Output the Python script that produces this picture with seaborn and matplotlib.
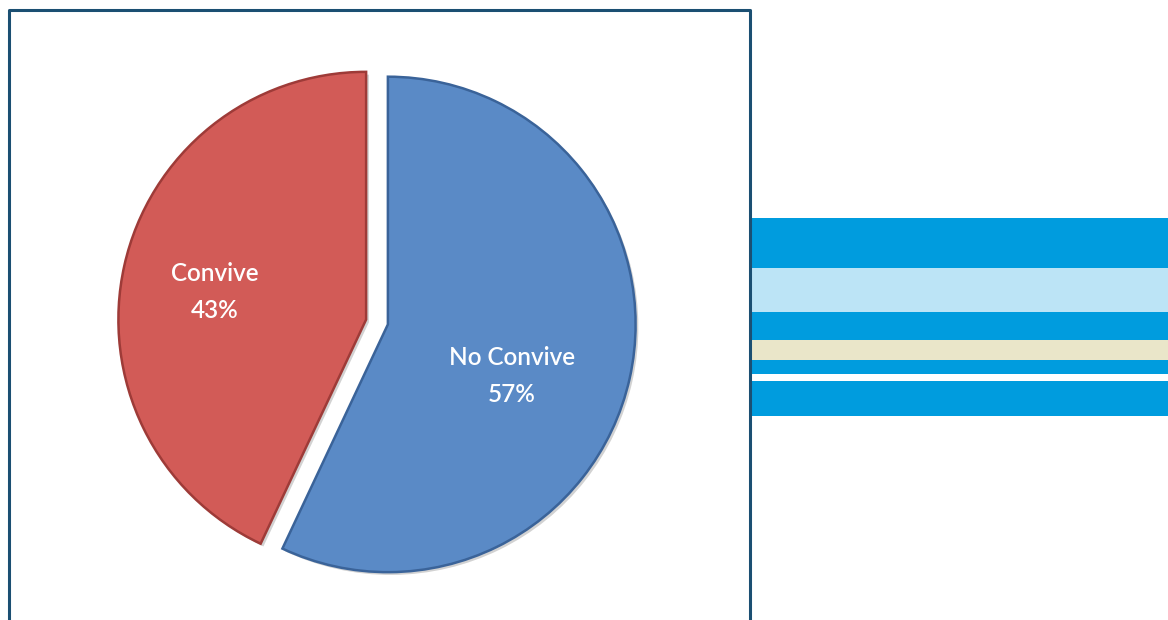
import seaborn as sns
import matplotlib.pyplot as plt
import matplotlib.patheffects as pe
from matplotlib.patches import Rectangle
from matplotlib.lines import Line2D

# chart data
categories = ['No Convive', 'Convive']
shares = [57, 43]
slice_colors = ['#5A8AC6', '#D25B57']
edge_colors = ['#3A6399', '#9E3B38']

# where the labels sit inside each slice (pie units)
label_pos = [(0.545, -0.218), (-0.654, 0.121)]

# decorative stripes on the right (top, bottom in pixels from top, colour)
stripes = [(218, 268, '#009CDE'), (268, 312, '#BCE4F6'), (312, 340, '#009CDE'),
           (340, 360, '#EAE6C9'), (360, 374, '#009CDE'), (381, 416, '#009CDE')]

sns.set_theme(style='white')
plt.rcParams['font.family'] = ['Lato', 'DejaVu Sans']

W, H = 1168, 620
fig = plt.figure(figsize=(W / 100, H / 100), dpi=100)
fig.patch.set_facecolor('white')

# frame around the chart (left, top, right only - bottom is cut off)
frame_col = '#1B4F72'
fig.add_artist(Line2D([9 / W, 9 / W, 750 / W, 750 / W], [0, 1 - 10 / H, 1 - 10 / H, 0],
                      color=frame_col, lw=2.2, transform=fig.transFigure))

# stripes
for top, bot, col in stripes:
    fig.add_artist(Rectangle((752 / W, 1 - bot / H), (W - 752) / W, (bot - top) / H,
                             facecolor=col, edgecolor='none', transform=fig.transFigure))

# pie
S = 545
cx, cy = 377, 620 - 322
ax = fig.add_axes([(cx - S / 2) / W, (cy - S / 2) / H, S / W, S / H])


def fmt(pct, labels=iter(categories)):
    return '{}\n{:.0f}%'.format(next(labels), pct)


shadow = [pe.withSimplePatchShadow(offset=(2, -2), shadow_rgbFace='#808080', alpha=0.35)]
wedges, texts, autotexts = ax.pie(shares, colors=slice_colors, startangle=90,
                                  counterclock=False, explode=[0.045, 0.045],
                                  autopct=fmt, pctdistance=0.6,
                                  wedgeprops=dict(linewidth=1.8, path_effects=shadow),
                                  textprops=dict(color='white', fontsize=17.5,
                                                 fontweight='semibold',
                                                 linespacing=1.7))
for w, ec in zip(wedges, edge_colors):
    w.set_edgecolor(ec)
for t, pos in zip(autotexts, label_pos):
    t.set_position(pos)

ax.set_xlim(-1.1, 1.1)
ax.set_ylim(-1.1, 1.1)
ax.set_aspect('equal')
ax.axis('off')

fig.savefig('out.png', dpi=100)
